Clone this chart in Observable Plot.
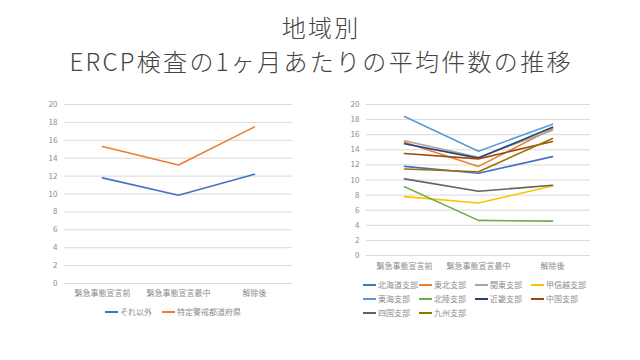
<!DOCTYPE html>
<html><head><meta charset="utf-8">
<script src="https://cdn.jsdelivr.net/npm/d3@7"></script>
<script src="https://cdn.jsdelivr.net/npm/@observablehq/plot@0.6"></script>
<style>
body{margin:0;width:640px;height:360px;background:#fff;position:relative;overflow:hidden;font-family:"Noto Sans CJK JP",sans-serif;}
.title{position:absolute;left:0;width:640px;text-align:center;font-size:24px;line-height:35px;height:35px;color:#444;font-weight:300;white-space:nowrap;letter-spacing:2.3px;text-indent:2.3px}
.chart{position:absolute;}
.leg{position:absolute;font-size:8px;color:#8c8c8c;white-space:nowrap;line-height:10px;height:10px}
.leg span.sw{display:inline-block;width:13px;height:1.6px;vertical-align:middle;margin-right:2px;position:relative;top:-1px}
</style></head><body>
<div class="title" style="top:9px">地域別</div>
<div class="title" style="top:43px">ERCP検査の1ヶ月あたりの平均件数の推移</div>
<div id="c1" class="chart" style="left:0;top:90px"></div>
<div id="c2" class="chart" style="left:320px;top:90px"></div>
<div id="l1"></div>
<div id="l2"></div>
<script>
const periods = ["緊急事態宣言前", "緊急事態宣言最中", "解除後"];
const yTicks = [0, 2, 4, 6, 8, 10, 12, 14, 16, 18, 20];

// Left chart
const leftSeries = ["それ以外", "特定警戒都道府県"];
const leftColors = ["#4472C4", "#ED7D31"];
const leftOther = [11.8, 9.85, 12.2];
const leftSpecial = [15.3, 13.25, 17.5];

// Right chart
const rightSeries = ["北海道支部", "東北支部", "関東支部", "甲信越支部", "東海支部", "北陸支部", "近畿支部", "中国支部", "四国支部", "九州支部"];
const rightColors = ["#4472C4", "#ED7D31", "#A5A5A5", "#FFC000", "#5B9BD5", "#70AD47", "#264478", "#9E480E", "#636363", "#997300"];
const hokkaido = [11.8, 10.9, 13.1];
const tohoku = [15.0, 11.8, 16.8];
const kanto = [15.2, 13.0, 16.6];
const koshinetsu = [7.8, 6.95, 9.2];
const tokai = [18.4, 13.8, 17.4];
const hokuriku = [9.1, 4.65, 4.55];
const kinki = [14.8, 12.9, 17.0];
const chugoku = [13.5, 12.8, 15.1];
const shikoku = [10.15, 8.5, 9.3];
const kyushu = [11.45, 11.1, 15.5];
const rightValues = [hokkaido, tohoku, kanto, koshinetsu, tokai, hokuriku, kinki, chugoku, shikoku, kyushu];

function table(names, vals) {
  const rows = [];
  names.forEach((n, i) => vals[i].forEach((v, j) => rows.push({series: n, period: periods[j], value: v})));
  return rows;
}

function chart(rows, names, colors, opts) {
  return Plot.plot({
    width: opts.width, height: opts.height,
    marginLeft: opts.ml, marginRight: opts.mr, marginTop: opts.mt, marginBottom: opts.mb,
    style: {fontFamily: '"Noto Sans CJK JP", sans-serif', fontSize: "8px", color: "#8c8c8c", background: "transparent"},
    x: {type: "point", domain: periods, padding: 0.5, label: null},
    y: {domain: [0, 20], label: null},
    color: {domain: names, range: colors},
    marks: [
      Plot.ruleY(yTicks, {stroke: "#d9d9d9", strokeWidth: 1}),
      Plot.axisY({ticks: yTicks, tickSize: 0, tickPadding: 7, label: null, tickFormat: d => d}),
      Plot.axisX({tickSize: 0, tickPadding: opts.tp, label: null}),
      Plot.line(rows, {x: "period", y: "value", z: "series", stroke: "series", strokeWidth: 1.6, curve: "linear"})
    ]
  });
}

document.getElementById("c1").appendChild(chart(table(leftSeries, [leftOther, leftSpecial]), leftSeries, leftColors,
  {width: 320, height: 220, ml: 64, mr: 28, mt: 14, mb: 27, tp: 7}));
document.getElementById("c2").appendChild(chart(table(rightSeries, rightValues), rightSeries, rightColors,
  {width: 320, height: 180, ml: 46, mr: 50, mt: 14, mb: 15, tp: 8}));

function addLegend(container, names, colors, xs, ys) {
  names.forEach((n, i) => {
    const d = document.createElement("div");
    d.className = "leg";
    d.style.left = xs(i) + "px"; d.style.top = ys(i) + "px";
    d.innerHTML = `<span class="sw" style="background:${colors[i]}"></span>${n}`;
    container.appendChild(d);
  });
}
const l1x = [105, 162];
addLegend(document.getElementById("l1"), leftSeries, leftColors, i => l1x[i], i => 307);
addLegend(document.getElementById("l2"), rightSeries, rightColors, i => 363 + (i % 4) * 56, i => 280 + Math.floor(i / 4) * 14);
</script>
</body></html>
